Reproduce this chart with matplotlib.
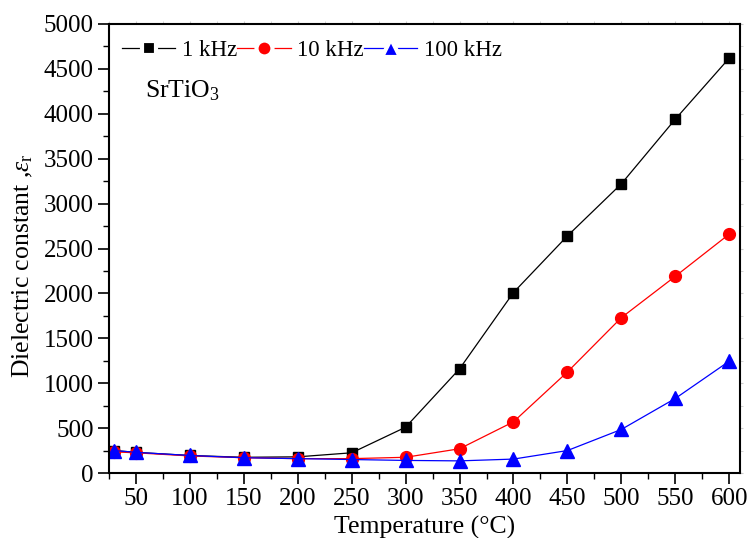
import matplotlib
matplotlib.use("Agg")
import matplotlib.pyplot as plt
from matplotlib.ticker import MultipleLocator
from matplotlib.lines import Line2D

temps = [30, 50, 100, 150, 200, 250, 300, 350, 400, 450, 500, 550, 600]
eps_1k = [250, 230, 195, 175, 180, 225, 510, 1160, 2010, 2640, 3220, 3940, 4620]
eps_10k = [235, 225, 190, 170, 160, 160, 175, 270, 570, 1125, 1730, 2190, 2660]
eps_100k = [250, 230, 195, 170, 160, 150, 140, 135, 155, 250, 485, 830, 1245]
labels = ["1 kHz", "10 kHz", "100 kHz"]
xticks = [50, 100, 150, 200, 250, 300, 350, 400, 450, 500, 550, 600]

plt.rcParams['font.family'] = ['Liberation Serif', 'DejaVu Serif']
plt.rcParams['mathtext.fontset'] = 'custom'
plt.rcParams['mathtext.rm'] = 'Liberation Serif'
plt.rcParams['mathtext.it'] = 'Liberation Serif:italic'

fig = plt.figure(figsize=(7.5, 5.38), dpi=100)
ax = fig.add_axes([109/750, 1-473/538, (740-109)/750, (473-24)/538])

styles = [('s', 'black', 7), ('o', 'red', 8.5), ('^', 'blue', 9.5)]
series = [eps_1k, eps_10k, eps_100k]
for (m, c, ms), ys, lab in zip(styles, series, labels):
    ax.plot(temps, ys, '-', marker=m, color=c, lw=0.9, ms=ms, label=lab)

ax.set_xlim(25, 610)
ax.set_ylim(0, 5000)
ax.set_xticks(xticks)
ax.xaxis.set_minor_locator(MultipleLocator(25))
ax.yaxis.set_major_locator(MultipleLocator(500))
ax.yaxis.set_minor_locator(MultipleLocator(250))
ax.tick_params(axis='both', which='major', direction='out', length=8, width=1.2,
               labelsize=18, pad=3)
ax.tick_params(axis='both', which='minor', direction='out', length=4, width=1.0)
for s in ax.spines.values():
    s.set_linewidth(1.5)

# faint ticks on the top and right spines
sx = ax.secondary_xaxis('top')
sx.set_xticks(xticks)
sx.xaxis.set_minor_locator(MultipleLocator(25))
sx.tick_params(which='both', direction='out', length=2.5, color='#cccccc', labeltop=False)
sx.spines['top'].set_visible(False)
sy = ax.secondary_yaxis('right')
sy.yaxis.set_major_locator(MultipleLocator(500))
sy.yaxis.set_minor_locator(MultipleLocator(250))
sy.tick_params(which='both', direction='out', length=2.5, color='#cccccc', labelright=False)
sy.spines['right'].set_visible(False)

ax.set_xlabel("Temperature (\u00b0C)", fontsize=18.5, labelpad=4)
ax.set_ylabel("Dielectric constant ,$\\mathit{\\varepsilon}_{\\mathrm{r}}$", fontsize=18.5)
ax.yaxis.set_label_coords(-0.117, 0.461)

ax.text(0.057, 0.837, "SrTiO$_3$", transform=ax.transAxes, fontsize=18.5, va='baseline')

handles = []
for (m, c, ms), lab in zip(styles, labels):
    handles.append(Line2D([], [], color=c, lw=0.9, marker=m, ms=ms + 3,
                          markerfacecolor=c, markeredgecolor='white', markeredgewidth=3,
                          label=lab))
leg = ax.legend(handles=handles, loc='upper left', ncol=3, frameon=False, fontsize=16.5,
                handlelength=2.35, handletextpad=0.27, columnspacing=0.0,
                borderaxespad=0.0, borderpad=0.0, bbox_to_anchor=(0.02, 0.965))

fig.savefig("out.png", dpi=100)
